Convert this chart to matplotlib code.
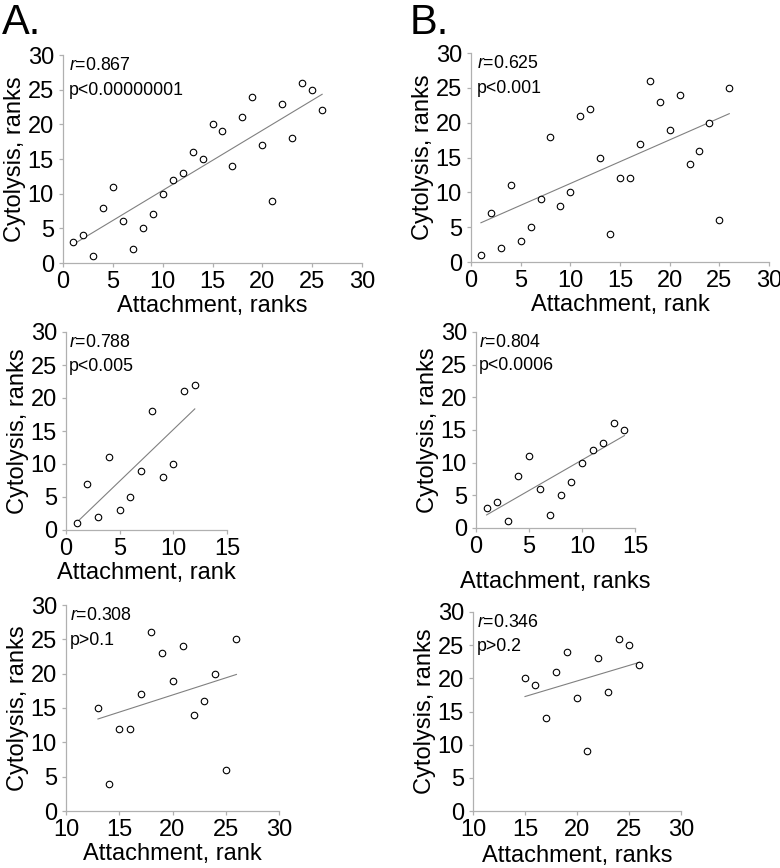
import numpy as np
import matplotlib
matplotlib.use("Agg")
import matplotlib.pyplot as plt

plt.rcParams["font.family"] = ["Liberation Sans", "DejaVu Sans"]
plt.rcParams["mathtext.fontset"] = "custom"
plt.rcParams["mathtext.rm"] = "Liberation Sans"
plt.rcParams["mathtext.it"] = "Liberation Sans:italic"

# Panel A, top: all cells
a1_x = list(range(1, 27))
a1_y = [3, 4, 1, 8, 11, 6, 2, 5, 7, 10, 12, 13, 16, 15, 20, 19, 14, 21, 24, 17, 9, 23, 18, 26, 25, 22]

# Panel B, top
b1_x = list(range(1, 27))
b1_y = [1, 7, 2, 11, 3, 5, 9, 18, 8, 10, 21, 22, 15, 4, 12, 12, 17, 26, 23, 19, 24, 14, 16, 20, 6, 25]

# Panel A, middle
a2_x = list(range(1, 13))
a2_y = [1, 7, 2, 11, 3, 5, 9, 18, 8, 10, 21, 22]

# Panel B, middle
b2_x = list(range(1, 15))
b2_y = [3, 4, 1, 8, 11, 6, 2, 5, 7, 10, 12, 13, 16, 15]

# Panel A, bottom
a3_x = list(range(13, 27))
a3_y = [15, 4, 12, 12, 17, 26, 23, 19, 24, 14, 16, 20, 6, 25]

# Panel B, bottom
b3_x = list(range(15, 27))
b3_y = [20, 19, 14, 21, 24, 17, 9, 23, 18, 26, 25, 22]

W, H = 780, 868
fig = plt.figure(figsize=(W / 100, H / 100), dpi=100)


def panel(box, xs, ys, xlim, xticks, xlabel, r_text, p_text, xpad=1):
    left, top, right, bottom = box
    ax = fig.add_axes([left / W, 1 - bottom / H, (right - left) / W, (bottom - top) / H])
    ax.scatter(xs, ys, s=22, facecolors="white", edgecolors="black", linewidths=0.8, zorder=3)
    k, c = np.polyfit(xs, ys, 1)
    fx = np.array([xs[0], xs[-1]])
    ax.plot(fx, k * fx + c, color="#808080", linewidth=0.8, zorder=2)
    ax.set_xlim(*xlim)
    ax.set_ylim(0, 30)
    ax.set_xticks(xticks)
    ax.set_yticks([0, 5, 10, 15, 20, 25, 30])
    for s in ["top", "right"]:
        ax.spines[s].set_visible(False)
    for s in ["left", "bottom"]:
        ax.spines[s].set_color("#b0b0b0")
        ax.spines[s].set_linewidth(0.9)
    ax.tick_params(colors="#b0b0b0", labelcolor="black", labelsize=17,
                   length=3, width=0.9, pad=3.5)
    ax.tick_params(axis="x", pad=3)
    ax.set_xlabel(xlabel, fontsize=17, labelpad=xpad)
    ax.set_ylabel("Cytolysis, ranks", fontsize=17, labelpad=1)
    ax.text(0.02, 0.99, "$\\mathit{r}$=" + r_text, transform=ax.transAxes,
            fontsize=12.8, va="top", ha="left")
    ax.text(0.02, 0.87, p_text, transform=ax.transAxes,
            fontsize=12.8, va="top", ha="left")
    return ax


panel((63, 55, 362, 263), a1_x, a1_y, (0, 30), [0, 5, 10, 15, 20, 25, 30],
      "Attachment, ranks", "0.867", "p<0.00000001")
panel((471, 53, 769, 262), b1_x, b1_y, (0, 30), [0, 5, 10, 15, 20, 25, 30],
      "Attachment, rank", "0.625", "p<0.001")
panel((66, 332, 227, 530), a2_x, a2_y, (0, 15), [0, 5, 10, 15],
      "Attachment, rank", "0.788", "p<0.005")
panel((476, 332, 635, 528), b2_x, b2_y, (0, 15), [0, 5, 10, 15],
      "Attachment, ranks", "0.804", "p<0.0006", xpad=9)
panel((66, 605, 279, 811), a3_x, a3_y, (10, 30), [10, 15, 20, 25, 30],
      "Attachment, rank", "0.308", "p>0.1")
panel((473, 612, 681, 811), b3_x, b3_y, (10, 30), [10, 15, 20, 25, 30],
      "Attachment, ranks", "0.346", "p>0.2", xpad=2.5)

fig.text(2 / W, 1 - 3 / H, "A.", fontsize=30, va="top", ha="left")
fig.text(410 / W, 1 - 3 / H, "B.", fontsize=30, va="top", ha="left")

fig.savefig("out.png", dpi=100)
